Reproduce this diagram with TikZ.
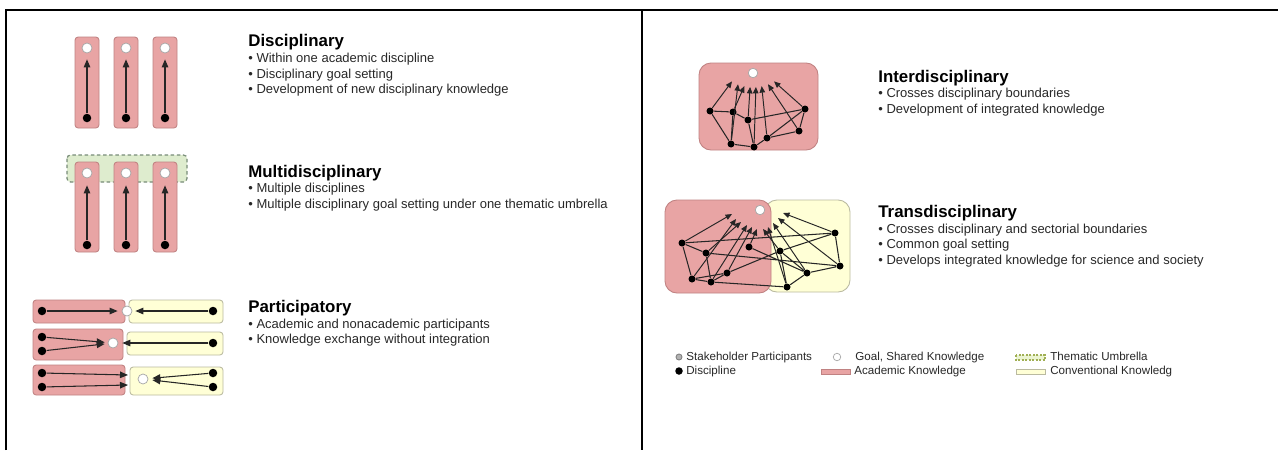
\documentclass[tikz,border=0pt]{standalone}
\usepackage{fontspec}
\setmainfont{Liberation Sans}
\usetikzlibrary{arrows.meta}
\definecolor{pinkfill}{RGB}{232,164,164}
\definecolor{pinkline}{RGB}{192,130,130}
\definecolor{yelfill}{RGB}{255,255,214}
\definecolor{yelline}{RGB}{186,186,160}
\definecolor{umbfill}{RGB}{222,236,206}
\definecolor{umbline}{RGB}{120,140,120}
\definecolor{txt}{RGB}{40,40,40}
\begin{document}
\begin{tikzpicture}[x=0.02cm,y=-0.02cm,
  pinkbox/.style={fill=pinkfill, draw=pinkline, line width=0.5pt, rounded corners=1.8pt},
  yelbox/.style={fill=yelfill, draw=yelline, line width=0.5pt, rounded corners=1.8pt},
  umbrella/.style={fill=umbfill, draw=umbline, dash pattern=on 2pt off 1.5pt, line width=0.7pt, rounded corners=2pt},
  goal/.style={circle, fill=white, draw=gray!70, line width=0.4pt, minimum size=0.2cm, inner sep=0pt},
  disc/.style={circle, fill=black, minimum size=0.17cm, inner sep=0pt},
  ndot/.style={circle, fill=black, minimum size=0.14cm, inner sep=0pt},
  arr/.style={-{Triangle[length=0.16cm,width=0.13cm]}, line width=0.6pt, draw=black!85},
  narr/.style={-{Triangle[length=0.13cm,width=0.11cm]}, line width=0.55pt, draw=black!85},
  link/.style={line width=0.6pt, draw=black!85},
  head/.style={anchor=base west, inner sep=0pt, text=black, font=\fontsize{9.6}{11}\selectfont\bfseries},
  bul/.style={anchor=base west, inner sep=0pt, text=txt, font=\fontsize{7.4}{9}\selectfont},
  leg/.style={anchor=base west, inner sep=0pt, text=txt, font=\fontsize{6.6}{8}\selectfont},
  frame/.style={line width=0.85pt, draw=black}]
\useasboundingbox (0,0) rectangle (1278,450);
\fill[white] (0,0) rectangle (1278,450);

% table frame
\draw[frame] (6,450) -- (6,10) -- (1278,10);
\draw[frame] (642,10) -- (642,450);

% ---------- Disciplinary ----------
\foreach \i/\x in {1/87,2/126,3/165} {
  \draw[pinkbox] (\x-12,37) rectangle (\x+12,128);
  \node[goal] (dg\i) at (\x,48) {};
  \node[disc] (dd\i) at (\x,118) {};
  \draw[arr, shorten >=0.12cm] (dd\i) -- (dg\i);
}
\node[head] (h1) at (248,46) {Disciplinary};
\node[bul] (b11) at (248,62.5) {• Within one academic discipline};
\node[bul] (b12) at (248,78) {• Disciplinary goal setting};
\node[bul] (b13) at (248,93.5) {• Development of new disciplinary knowledge};

% ---------- Multidisciplinary ----------
\draw[umbrella] (67,155) rectangle (187,182);
\foreach \i/\x in {1/87,2/126,3/165} {
  \draw[pinkbox] (\x-12,162) rectangle (\x+12,252);
  \node[goal] (mg\i) at (\x,173) {};
  \node[disc] (md\i) at (\x,245) {};
  \draw[arr, shorten >=0.14cm] (md\i) -- (mg\i);
}
\node[head] (h2) at (248,177) {Multidisciplinary};
\node[bul] (b21) at (248,192.5) {• Multiple disciplines};
\node[bul] (b22) at (248,208) {• Multiple disciplinary goal setting under one thematic umbrella};

% ---------- Participatory ----------
% row 1
\draw[pinkbox] (33,300) rectangle (125,323);
\draw[yelbox] (129,300) rectangle (223,323);
\node[goal] (pg1) at (127,311) {};
\node[disc] (pa1) at (42,311) {};
\node[disc] (py1) at (213,311) {};
\draw[arr, shorten >=0.08cm] (pa1) -- (pg1);
\draw[arr, shorten >=0.06cm] (py1) -- (pg1);
% row 2
\draw[pinkbox] (33,329) rectangle (123,360);
\draw[yelbox] (127,332) rectangle (223,355);
\node[goal] (pg2) at (113,343) {};
\node[disc] (pa2) at (42,337) {};
\node[disc] (pb2) at (42,351) {};
\node[disc] (py2) at (213,343) {};
\draw[arr, shorten >=0.06cm] (pa2) -- (pg2);
\draw[arr, shorten >=0.06cm] (pb2) -- (pg2);
\draw[arr, shorten >=0.08cm] (py2) -- (pg2);
% row 3
\draw[pinkbox] (33,365) rectangle (125,395);
\draw[yelbox] (130,367) rectangle (223,395);
\node[goal] (pg3) at (143,379) {};
\node[disc] (pa3) at (42,373) {};
\node[disc] (pb3) at (42,387) {};
\node[disc] (py3) at (213,373) {};
\node[disc] (pz3) at (213,387) {};
\coordinate (pe3) at (128,375);
\coordinate (pf3) at (128,385);
\draw[arr] (pa3) -- (pe3);
\draw[arr] (pb3) -- (pf3);
\draw[arr, shorten >=0.08cm] (py3) -- (pg3);
\draw[arr, shorten >=0.08cm] (pz3) -- (pg3);
\node[head] (h3) at (248,312) {Participatory};
\node[bul] (b31) at (248,328) {• Academic and nonacademic participants};
\node[bul] (b32) at (248,343.5) {• Knowledge exchange without integration};

% ---------- Interdisciplinary ----------
\draw[pinkbox, rounded corners=6.8pt] (699,63) rectangle (818,150);
\node[goal, minimum size=0.19cm] (ig) at (753,73) {};
\node[ndot] (iA) at (710,111) {};
\node[ndot] (iB) at (733,112) {};
\node[ndot] (iC) at (748,120) {};
\node[ndot] (iD) at (805,109) {};
\node[ndot] (iE) at (799,131) {};
\node[ndot] (iF) at (767,138) {};
\node[ndot] (iG) at (754,147) {};
\node[ndot] (iH) at (731,144) {};
\coordinate (it1) at (732,81.4);
\coordinate (it2) at (738,84.2);
\coordinate (it3) at (744.3,86.1);
\coordinate (it4) at (750.1,86.9);
\coordinate (it5) at (755.9,86.9);
\coordinate (it6) at (761.7,86.1);
\coordinate (it7) at (768,84.2);
\coordinate (it8) at (774,81.4);
\draw[link] (iA) -- (iB) (iA) -- (iH) (iB) -- (iH) (iB) -- (iC)
  (iC) -- (iD) (iD) -- (iE) (iE) -- (iF) (iF) -- (iG) (iG) -- (iH)
  (iC) -- (iG) (iD) -- (iF);
\draw[narr] (iA) -- (it1);
\draw[narr] (iH) -- (it2);
\draw[narr] (iB) -- (it3);
\draw[narr] (iC) -- (it4);
\draw[narr] (iG) -- (it5);
\draw[narr] (iF) -- (it6);
\draw[narr] (iE) -- (it7);
\draw[narr] (iD) -- (it8);
\node[head] (h4) at (878,82) {Interdisciplinary};
\node[bul] (b41) at (878,97.5) {• Crosses disciplinary boundaries};
\node[bul] (b42) at (878,113) {• Development of integrated knowledge};

% ---------- Transdisciplinary ----------
\draw[yelbox, rounded corners=6.8pt] (765,200) rectangle (850,292);
\draw[pinkbox, rounded corners=6.8pt] (665,200) rectangle (771,293);
\node[goal, minimum size=0.19cm] (tg) at (760,210) {};
\node[ndot] (tP1) at (682,243) {};
\node[ndot] (tP2) at (706,253) {};
\node[ndot] (tP3) at (749,247) {};
\node[ndot] (tP4) at (727,273) {};
\node[ndot] (tP5) at (711,282) {};
\node[ndot] (tP6) at (692,279) {};
\node[ndot] (tY1) at (780,251) {};
\node[ndot] (tY2) at (835,233) {};
\node[ndot] (tY3) at (840,266) {};
\node[ndot] (tY4) at (807,273) {};
\node[ndot] (tY5) at (787,287) {};
\coordinate (tp1) at (732,214);
\coordinate (tp2) at (736,219);
\coordinate (tp3) at (741,222);
\coordinate (tp4) at (747,225);
\coordinate (tp5) at (752,227);
\coordinate (tp6) at (757,229);
\coordinate (ty1) at (763,229);
\coordinate (ty2) at (768,227);
\coordinate (ty3) at (773,223);
\coordinate (ty4) at (778,218);
\coordinate (ty5) at (783,213);
\draw[link] (tP1) -- (tY2) (tP1) -- (tP2) (tP1) -- (tP6) (tP2) -- (tY3)
  (tP2) -- (tP5) (tP6) -- (tP5) (tP5) -- (tY5) (tP4) -- (tY1) (tP4) -- (tP5)
  (tP3) -- (tY4) (tP6) -- (tP4) (tY1) -- (tY4) (tY2) -- (tY3) (tY3) -- (tY4)
  (tY4) -- (tY5) (tY1) -- (tY5) (tY1) -- (tY2);
\draw[narr] (tP1) -- (tp1);
\draw[narr] (tP6) -- (tp2);
\draw[narr] (tP2) -- (tp3);
\draw[narr] (tP5) -- (tp4);
\draw[narr] (tP4) -- (tp5);
\draw[narr] (tP3) -- (tp6);
\draw[narr] (tY1) -- (ty1);
\draw[narr] (tY5) -- (ty2);
\draw[narr] (tY4) -- (ty3);
\draw[narr] (tY3) -- (ty4);
\draw[narr] (tY2) -- (ty5);
\node[head] (h5) at (878,217) {Transdisciplinary};
\node[bul] (b51) at (878,233) {• Crosses disciplinary and sectorial boundaries};
\node[bul] (b52) at (878,248.5) {• Common goal setting};
\node[bul] (b53) at (878,264) {• Develops integrated knowledge for science and society};

% ---------- Legend ----------
\node[circle, fill=gray!60, draw=gray, line width=0.5pt, minimum size=0.12cm, inner sep=0pt] (ls) at (679,357) {};
\node[leg] (lst) at (686,360.5) {Stakeholder Participants};
\node[disc, minimum size=0.15cm] (ld) at (679,371) {};
\node[leg] (ldt) at (686,374.5) {Discipline};
\node[goal, minimum size=0.15cm] (lg) at (837,357) {};
\node[leg] (lgt) at (855,360.5) {Goal, Shared Knowledge};
\draw[pinkbox, rounded corners=0pt] (821,369) rectangle (850,374);
\node[leg] (lat) at (854,374.5) {Academic Knowledge};
\draw[fill=umbfill!60!yelfill, draw=umbline!70!yellow, dash pattern=on 1.2pt off 0.8pt, line width=0.6pt] (1016,355) rectangle (1045,360);
\node[leg] (lut) at (1050,360.5) {Thematic Umbrella};
\draw[yelbox, rounded corners=0pt] (1016,369) rectangle (1045,374);
\node[leg] (lct) at (1050,374.5) {Conventional Knowledg};
\end{tikzpicture}
\end{document}
